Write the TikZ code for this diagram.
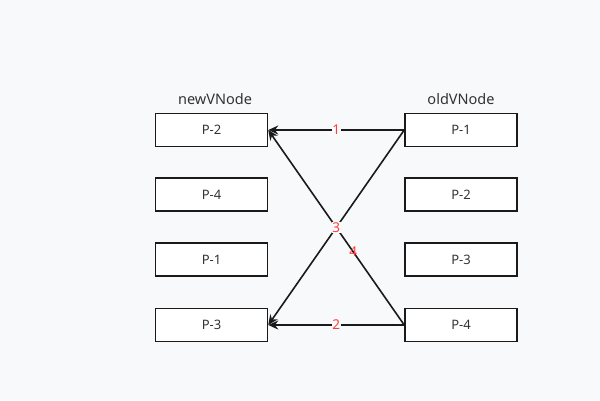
\documentclass[tikz,border=0pt]{standalone}
\usepackage{fontspec}
\setmainfont{Noto Sans}
\usetikzlibrary{arrows.meta}
\definecolor{Bg}{HTML}{F8F9FA}
\definecolor{Ink}{HTML}{1A1A1A}
\definecolor{Txt}{HTML}{333333}
\definecolor{Tag}{HTML}{FF3B3B}

\begin{document}
\begin{tikzpicture}[x=1pt,y=-1pt,
  vbox/.style={draw=Ink,line width=1.5pt,fill=white,inner sep=0pt,
    minimum width=112pt,minimum height=33pt,text=Txt,
    font=\fontsize{13}{15}\selectfont},
  head/.style={text=Txt,font=\fontsize{14.5}{16}\selectfont},
  link/.style={draw=Ink,line width=1.6pt,-{Stealth[length=10pt,width=9pt]}},
  tag/.style={fill=Bg,inner sep=0.5pt,text=Tag,font=\fontsize{13.5}{15}\selectfont}]
  \fill[Bg] (0,0) rectangle (600,400);
  \node[head] (newhead) at (215,99) {newVNode};
  \node[head] (oldhead) at (461,99) {oldVNode};
  \foreach \i/\y/\nlab/\olab in {1/130/P-2/P-1, 2/194.5/P-4/P-2,
    3/259.5/P-1/P-3, 4/325/P-3/P-4} {
    \node[vbox] (n\i) at (211.5,\y) {\nlab};
    \node[vbox] (o\i) at (461,\y) {\olab};
  }
  \draw[link] (o1.west) -- (n1.east) node[tag,pos=0.5] {1};
  \draw[link] (o4.west) -- (n4.east) node[tag,pos=0.5] {2};
  \draw[link] (o4.west) -- (n1.east) node[tag,pos=0.375,fill=none] {4};
  \draw[link] (o1.west) -- (n4.east) node[tag,pos=0.5] {3};
\end{tikzpicture}
\end{document}
